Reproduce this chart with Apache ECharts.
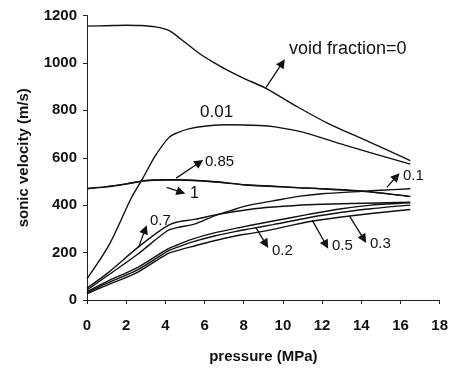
<!DOCTYPE html>
<html><head><meta charset="utf-8">
<script src="https://cdn.jsdelivr.net/npm/echarts@6/dist/echarts.min.js"></script>
<style>html,body{margin:0;padding:0;background:#fff;}#c{width:451px;height:369px;}</style>
</head><body><div id="c"></div>
<script>
// Axis ticks
const xTicks = [0, 2, 4, 6, 8, 10, 12, 14, 16, 18];
const yTicks = [0, 200, 400, 600, 800, 1000, 1200];

// void fraction = 0
const vf0_p = [0, 1, 2, 2.7, 3.5, 4.2, 4.8, 5.7, 6.5, 7.26, 8, 9.13, 10.8, 12.35, 14.4, 16.5];
const vf0_v = [1155, 1157, 1159, 1158, 1152, 1136, 1100, 1042, 1000, 965, 935, 893, 812, 743, 667, 588];
// void fraction = 0.01
const vf001_p = [0, 1.15, 2.26, 2.85, 3.5, 4.2, 4.6, 5.2, 6, 7.26, 8.8, 9.6, 11, 13.2, 16.5];
const vf001_v = [90, 236, 430, 514, 610, 687, 705, 722, 733, 739, 736, 730, 708, 652, 573];
// void fraction = 1
const vf1_p = [0, 1, 2, 3, 4, 4.7, 6.4, 8.1, 9.5, 10.8, 11.7, 14.2, 16.5];
const vf1_v = [470, 478, 490, 504, 507, 507, 500, 486, 480, 474, 471, 458, 437];
// void fraction = 0.85
const vf085_p = [0, 1, 2, 3, 4, 4.7, 6.4, 8.1, 9.5, 10.8, 11.7, 14.2, 16.5];
const vf085_v = [469, 477, 489, 503, 506, 506, 499, 485, 479, 473, 470, 457, 436];
// void fraction = 0.7
const vf07_p = [0, 1, 2.6, 3.95, 4.46, 5.48, 6.75, 8.28, 9.5, 11.3, 13.5, 16.5];
const vf07_v = [50, 110, 222, 305, 326, 340, 362, 382, 392, 402, 407, 412];
// void fraction = 0.1
const vf01_p = [0, 1, 2.6, 4.1, 4.6, 5.48, 6.5, 7.26, 8.28, 9.5, 10.8, 12, 14, 15, 16.5];
const vf01_v = [42, 100, 194, 292, 305, 320, 355, 375, 400, 418, 437, 448, 458, 463, 469];
// void fraction = 0.2
const vf02_p = [0, 1, 2.6, 4.1, 4.6, 5.3, 6.5, 7.76, 8.3, 9.5, 11.3, 13, 14.5, 16.5];
const vf02_v = [35, 78, 138, 215, 232, 255, 283, 305, 314, 333, 361, 385, 400, 410];
// void fraction = 0.3
const vf03_p = [0, 1, 2.6, 4.1, 4.6, 5.3, 6.5, 7.76, 8.3, 9.5, 11.3, 13, 14.5, 16.5];
const vf03_v = [30, 70, 128, 205, 222, 243, 270, 292, 300, 318, 347, 370, 385, 400];
// void fraction = 0.5
const vf05_p = [0, 1, 2.6, 4.1, 4.6, 5.3, 6.5, 7.76, 8.3, 9.5, 11.3, 13, 14.5, 16.5];
const vf05_v = [26, 62, 118, 195, 208, 224, 250, 273, 280, 298, 330, 350, 365, 382];

// annotation arrows: [tailP, tailV, headP, headV]
const arrows = [
  [9.13, 896, 9.97, 1000],
  [4.55, 514, 5.74, 580],
  [4.07, 475, 4.8, 455],
  [2.63, 222, 2.97, 298],
  [15.3, 475, 15.8, 521],
  [8.62, 305, 9.13, 236],
  [11.5, 336, 12.2, 233],
  [13.4, 354, 14.13, 257]
];

const zip = (p, v) => p.map((x, i) => [x, v[i]]);
const curves = [
  ['0', vf0_p, vf0_v], ['0.01', vf001_p, vf001_v], ['1', vf1_p, vf1_v],
  ['0.85', vf085_p, vf085_v], ['0.7', vf07_p, vf07_v], ['0.1', vf01_p, vf01_v],
  ['0.2', vf02_p, vf02_v], ['0.3', vf03_p, vf03_v], ['0.5', vf05_p, vf05_v]
];
const FONT = 'Arial, "Liberation Sans", sans-serif';

const series = curves.map((c, i) => ({
  name: c[0], type: 'line', data: zip(c[1], c[2]), showSymbol: false, smooth: 0.3,
  lineStyle: { color: '#111', width: 1.4 }, silent: true
}));
series.push({
  name: 'arrows', type: 'line', data: [], silent: true,
  markLine: {
    silent: true, animation: false, symbol: ['none', 'triangle'], symbolSize: 9,
    label: { show: false }, emphasis: { disabled: true },
    lineStyle: { color: '#111', width: 1.3, type: 'solid' },
    itemStyle: { color: '#111' },
    data: arrows.map(a => [{ coord: [a[0], a[1]] }, { coord: [a[2], a[3]] }])
  }
});

const texts = [
  ['void fraction=0', 289, 49, 18],
  ['0.01', 200, 112, 17],
  ['0.85', 205, 162, 15],
  ['1', 190, 194, 16],
  ['0.7', 150, 221, 15],
  ['0.1', 403, 176, 15],
  ['0.2', 272, 251, 15],
  ['0.5', 332, 246, 15],
  ['0.3', 370, 244, 15]
];

const chart = echarts.init(document.getElementById('c'), null, { renderer: 'canvas' });
chart.setOption({
  animation: false,
  backgroundColor: '#fff',
  grid: { left: 87, top: 15.5, width: 354, height: 288, containLabel: false },
  xAxis: {
    type: 'value', min: xTicks[0], max: xTicks[xTicks.length - 1], interval: 2,
    name: 'pressure (MPa)', nameLocation: 'middle', nameGap: 49,
    nameTextStyle: { fontFamily: FONT, fontWeight: 'bold', fontSize: 15, color: '#111' },
    axisLine: { lineStyle: { color: '#222', width: 1 } },
    axisTick: { inside: false, length: 4, lineStyle: { color: '#222' } },
    axisLabel: { margin: 18, fontFamily: FONT, fontWeight: 'bold', fontSize: 15, color: '#111',
      formatter: v => String(v) },
    splitLine: { show: false }
  },
  yAxis: {
    type: 'value', min: yTicks[0], max: yTicks[yTicks.length - 1], interval: 200,
    name: 'sonic velocity (m/s)', nameLocation: 'middle', nameGap: 56,
    nameTextStyle: { fontFamily: FONT, fontWeight: 'bold', fontSize: 15, color: '#111' },
    axisLine: { show: true, lineStyle: { color: '#222', width: 1 } },
    axisTick: { show: true, inside: false, length: 4, lineStyle: { color: '#222' } },
    axisLabel: { margin: 10, fontFamily: FONT, fontWeight: 'bold', fontSize: 15, color: '#111',
      formatter: v => String(v) },
    splitLine: { show: false }
  },
  series: series,
  graphic: texts.map(t => ({
    type: 'text', x: t[1], y: t[2], silent: true,
    style: { text: t[0], fontFamily: FONT, fontSize: t[3], fill: '#111', verticalAlign: 'middle', align: 'left' }
  }))
});
</script></body></html>
